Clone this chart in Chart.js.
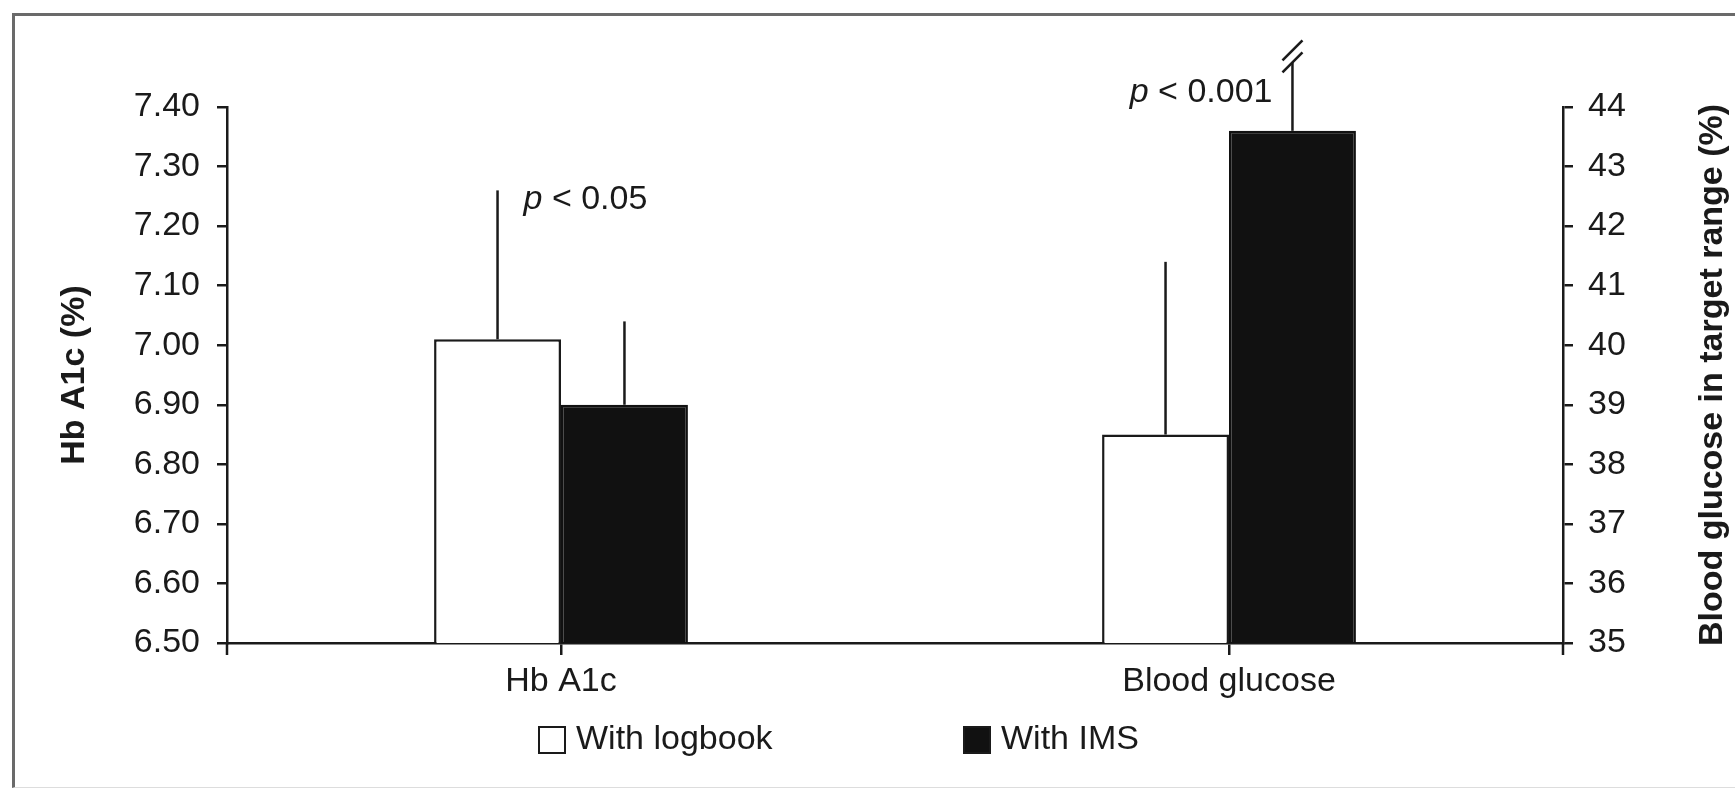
<!DOCTYPE html>
<html>
<head>
<meta charset="utf-8">
<script src="https://cdn.jsdelivr.net/npm/chart.js"></script>
<style>
  html, body { margin: 0; padding: 0; background: #fff; }
  #wrap { position: relative; width: 1735px; height: 788px; overflow: hidden; }
  #frame { position: absolute; left: 12px; top: 13px; width: 1760px; height: 771px;
           border-left: 3px solid #6a6a6a; border-top: 3px solid #6a6a6a; border-bottom: 1px solid #ddd;
           pointer-events: none; }
</style>
</head>
<body>
<div id="wrap">
  <canvas id="myChart"></canvas>
  <div id="frame"></div>
</div>
<script>
// values
const categories = ['Hb A1c', 'Blood glucose'];
const seriesNames = ['With logbook', 'With IMS'];
const hba1cMeans = [7.01, 6.90];      // logbook, IMS
const hba1cSD = [0.25, 0.14];
const glucoseMeans = [38.5, 43.6];    // logbook, IMS
const glucoseSD = [2.9, 1.15];        // IMS error bar is cut (//) in the original
const pTexts = ['< 0.05', '< 0.001'];
const hba1cRange = [6.5, 7.4];
const glucoseRange = [35, 44];

const FONT = '"Liberation Sans", Arial, Helvetica, sans-serif';
const INK = '#1a1a1a';
const LW = 2.5;

// error bars, p values, axis titles and legend
const extras = {
  id: 'extras',
  afterDatasetsDraw(chart) {
    const ctx = chart.ctx;
    ctx.save();
    ctx.strokeStyle = INK;
    ctx.lineWidth = LW;
    chart.data.datasets.forEach((ds, i) => {
      const meta = chart.getDatasetMeta(i);
      const scale = chart.scales[ds.yAxisID];
      meta.data.forEach((bar, j) => {
        if (ds.data[j] == null) return;
        const top = scale.getPixelForValue(ds.data[j] + ds.err[j]);
        ctx.beginPath();
        ctx.moveTo(bar.x, bar.y);
        ctx.lineTo(bar.x, top);
        ctx.stroke();
        if (ds.broken) {
          // two little slashes to show the bar is cut
          [0, -12].forEach(dy => {
            ctx.beginPath();
            ctx.moveTo(bar.x - 10, top + dy + 10);
            ctx.lineTo(bar.x + 10, top + dy - 10);
            ctx.stroke();
          });
        }
        if (ds.pText) {
          ctx.fillStyle = INK;
          ctx.textBaseline = 'alphabetic';
          const it = 'italic 34px ' + FONT, rt = '34px ' + FONT;
          ctx.font = it;
          const pw = ctx.measureText('p ').width;
          ctx.font = rt;
          const rw = ctx.measureText(ds.pText).width;
          let x0, yb;
          if (ds.pSide === 'right') { x0 = bar.x + 26; yb = top + 19; }
          else { x0 = bar.x - 20 - pw - rw; yb = top + 40; }
          ctx.font = it;
          ctx.textAlign = 'left';
          ctx.fillText('p', x0, yb);
          ctx.font = rt;
          ctx.fillText(ds.pText, x0 + pw, yb);
        }
      });
    });
    ctx.restore();
  },
  afterDraw(chart) {
    const ctx = chart.ctx;
    const a = chart.chartArea;
    ctx.save();
    ctx.strokeStyle = INK;
    ctx.lineWidth = LW;
    // y axis lines run a little below the x axis
    [a.left, a.right].forEach(x => {
      ctx.beginPath();
      ctx.moveTo(x, a.bottom);
      ctx.lineTo(x, a.bottom + 12);
      ctx.stroke();
    });
    // axis titles
    ctx.fillStyle = INK;
    ctx.font = 'bold 34px ' + FONT;
    ctx.textAlign = 'center';
    ctx.textBaseline = 'middle';
    const cy = (a.top + a.bottom) / 2;
    [[75, 'Hb A1c (%)'], [1713, 'Blood glucose in target range (%)']].forEach(t => {
      ctx.save();
      ctx.translate(t[0], cy);
      ctx.rotate(-Math.PI / 2);
      ctx.fillText(t[1], 0, 0);
      ctx.restore();
    });
    // legend
    ctx.font = '34px ' + FONT;
    ctx.textAlign = 'left';
    const lx = [538, 963];
    seriesNames.forEach((name, i) => {
      const ds = chart.data.datasets[i];
      ctx.fillStyle = ds.backgroundColor;
      ctx.fillRect(lx[i], 726, 28, 28);
      ctx.strokeStyle = INK;
      ctx.lineWidth = 2;
      ctx.strokeRect(lx[i] + 1, 727, 26, 26);
      ctx.fillStyle = INK;
      ctx.fillText(name, lx[i] + 38, 740);
    });
    ctx.restore();
  }
};

const tickFont = { size: 34, family: FONT };

new Chart(document.getElementById('myChart').getContext('2d'), {
  type: 'bar',
  data: {
    labels: categories,
    datasets: [
      { label: seriesNames[0], data: [hba1cMeans[0], null], err: [hba1cSD[0], null], yAxisID: 'y',
        backgroundColor: '#fff', borderColor: INK, borderWidth: LW, pText: pTexts[0], pSide: 'right' },
      { label: seriesNames[1], data: [hba1cMeans[1], null], err: [hba1cSD[1], null], yAxisID: 'y',
        backgroundColor: '#111', borderColor: '#111', borderWidth: LW },
      { label: seriesNames[0], data: [null, glucoseMeans[0]], err: [null, glucoseSD[0]], yAxisID: 'y2',
        backgroundColor: '#fff', borderColor: INK, borderWidth: LW },
      { label: seriesNames[1], data: [null, glucoseMeans[1]], err: [null, glucoseSD[1]], yAxisID: 'y2',
        backgroundColor: '#111', borderColor: '#111', borderWidth: LW, broken: true, pText: pTexts[1], pSide: 'left' }
    ]
  },
  options: {
    responsive: true,
    maintainAspectRatio: false,
    animation: false,
    layout: { padding: { top: 107, left: 0, right: 0, bottom: 0 } },
    datasets: { bar: { skipNull: true, categoryPercentage: 0.38, barPercentage: 1 } },
    plugins: { legend: { display: false }, tooltip: { enabled: false } },
    scales: {
      x: {
        offset: true,
        grid: { offset: false, drawOnChartArea: false, tickLength: 12, color: INK, lineWidth: LW },
        border: { color: INK, width: LW },
        ticks: { color: INK, font: tickFont, padding: 6 },
        afterFit(s) { s.height = 145; }
      },
      y: {
        position: 'left',
        min: hba1cRange[0], max: hba1cRange[1],
        grid: { drawOnChartArea: false, tickLength: 10, color: INK, lineWidth: LW },
        border: { color: INK, width: LW },
        ticks: { stepSize: 0.1, color: INK, font: tickFont, padding: 17, callback: v => v.toFixed(2) },
        afterFit(s) { s.width = 227; }
      },
      y2: {
        position: 'right',
        min: glucoseRange[0], max: glucoseRange[1],
        grid: { drawOnChartArea: false, tickLength: 10, color: INK, lineWidth: LW },
        border: { color: INK, width: LW },
        ticks: { stepSize: 1, color: INK, font: tickFont, padding: 15 },
        afterFit(s) { s.width = 172; }
      }
    }
  },
  plugins: [extras]
});
</script>
</body>
</html>
